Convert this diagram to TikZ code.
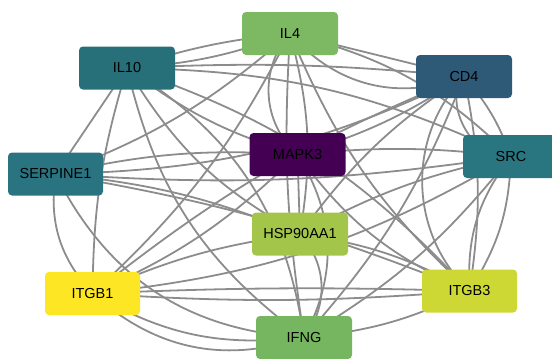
\documentclass[tikz,border=0pt]{standalone}
\usepackage{fontspec}
\setmainfont{Liberation Sans}
\begin{document}
\begin{tikzpicture}[x=1pt,y=-1pt,
  lnk/.style={draw=edgegray, line width=1.8pt},
  gbox/.style={rectangle, rounded corners=4pt, minimum width=96pt, minimum height=43pt, inner sep=0pt, font=\fontsize{14.5}{16}\selectfont, text=black}]
\definecolor{edgegray}{HTML}{8C8C8C}
\definecolor{cIL4}{HTML}{7DB863}
\definecolor{cIL10}{HTML}{287079}
\definecolor{cCD4}{HTML}{2E5A78}
\definecolor{cMAPK}{HTML}{440154}
\definecolor{cSRC}{HTML}{297680}
\definecolor{cSERP}{HTML}{2A7380}
\definecolor{cHSP}{HTML}{A2C54A}
\definecolor{cITGB1}{HTML}{FDE725}
\definecolor{cITGB3}{HTML}{CDD835}
\definecolor{cIFNG}{HTML}{76B660}
\useasboundingbox (0,0) rectangle (552,359);
\clip (0,0) rectangle (552,359);
% node anchors (centres)
\coordinate (pIL4) at (290,33.5);
\coordinate (pIL10) at (127,68);
\coordinate (pCD4) at (464,76.5);
\coordinate (pMAPK) at (297.5,154.5);
\coordinate (pSRC) at (511,156.5);
\coordinate (pSERP) at (55.5,174);
\coordinate (pHSP) at (300,234);
\coordinate (pITGB1) at (92.5,293.5);
\coordinate (pITGB3) at (469.5,291);
\coordinate (pIFNG) at (304,337.5);
% edges
\draw[lnk] (pIL4) to[bend left=8] (pIL10);
\draw[lnk] (pIL4) to[bend right=6] (pIL10);
\draw[lnk] (pIL4) to[bend right=35] (pCD4);
\draw[lnk] (pIL4) to (pCD4);
\draw[lnk] (pIL4) to[bend right=45] (pMAPK);
\draw[lnk] (pIL4) to[bend left=15] (pSRC);
\draw[lnk] (pIL4) to[bend left=10] (pSERP);
\draw[lnk] (pIL4) to[bend left=12] (pHSP);
\draw[lnk] (pIL4) to[bend left=10] (pITGB1);
\draw[lnk] (pIL4) to[bend right=12] (pITGB3);
\draw[lnk] (pIL4) to[bend right=6] (pIFNG);
\draw[lnk] (pIL10) to[bend left=4] (pCD4);
\draw[lnk] (pIL10) to[bend right=10] (pMAPK);
\draw[lnk] (pIL10) to[bend left=12] (pSRC);
\draw[lnk] (pIL10) to (pSERP);
\draw[lnk] (pIL10) to[bend right=15] (pHSP);
\draw[lnk] (pIL10) to[bend right=8] (pITGB1);
\draw[lnk] (pIL10) to[bend left=14] (pITGB3);
\draw[lnk] (pIL10) to[bend right=20] (pIFNG);
\draw[lnk] (pIL10) to[bend left=25] (pIFNG);
\draw[lnk] (pCD4) to[bend left=8] (pMAPK);
\draw[lnk] (pCD4) to[bend right=70] (pSRC);
\draw[lnk] (pCD4) to[bend left=10] (pSRC);
\draw[lnk] (pCD4) to[bend left=12] (pSERP);
\draw[lnk] (pCD4) to[bend right=10] (pHSP);
\draw[lnk] (pCD4) to[bend right=8] (pITGB1);
\draw[lnk] (pCD4) to[bend right=45] (pITGB3);
\draw[lnk] (pCD4) to[bend left=10] (pITGB3);
\draw[lnk] (pCD4) to[bend left=10] (pIFNG);
\draw[lnk] (pMAPK) to[bend left=6] (pSRC);
\draw[lnk] (pMAPK) to[bend right=8] (pSERP);
\draw[lnk] (pMAPK) to (pHSP);
\draw[lnk] (pMAPK) to[bend left=10] (pITGB1);
\draw[lnk] (pMAPK) to[bend right=15] (pITGB3);
\draw[lnk] (pMAPK) to[bend left=30] (pIFNG);
\draw[lnk] (pSRC) to[bend left=6] (pSERP);
\draw[lnk] (pSRC) to[bend right=8] (pHSP);
\draw[lnk] (pSRC) to[bend left=12] (pITGB1);
\draw[lnk] (pSRC) to[bend left=15] (pITGB3);
\draw[lnk] (pSRC) to[bend right=20] (pITGB3);
\draw[lnk] (pSRC) to[bend left=10] (pIFNG);
\draw[lnk] (pSERP) to[bend left=8] (pHSP);
\draw[lnk] (pSERP) to[bend right=25] (pITGB1);
\draw[lnk] (pSERP) to[bend left=6] (pITGB3);
\draw[lnk] (pSERP) to[bend right=30] (pIFNG);
\draw[lnk] (pHSP) to[bend right=8] (pITGB1);
\draw[lnk] (pHSP) to[bend left=10] (pITGB3);
\draw[lnk] (pHSP) to[bend left=40] (pIFNG);
\draw[lnk] (pITGB1) to[bend left=2] (pITGB3);
\draw[lnk] (pITGB1) to[bend right=4] (pITGB3);
\draw[lnk] (pITGB1) to[bend right=18] (pIFNG);
\draw[lnk] (pITGB1) to[bend right=30] (pIFNG);
\draw[lnk] (pITGB3) to[bend left=10] (pIFNG);
% nodes
\node[gbox, fill=cIL4] (IL4) at (pIL4) {IL4};
\node[gbox, fill=cIL10] (IL10) at (pIL10) {IL10};
\node[gbox, fill=cCD4] (CD4) at (pCD4) {CD4};
\node[gbox, fill=cMAPK] (MAPK3) at (pMAPK) {MAPK3};
\node[gbox, fill=cSRC] (SRC) at (pSRC) {SRC};
\node[gbox, fill=cSERP, minimum width=95pt] (SERPINE1) at (pSERP) {SERPINE1};
\node[gbox, fill=cHSP] (HSP90AA1) at (pHSP) {HSP90AA1};
\node[gbox, fill=cITGB1, minimum width=95pt] (ITGB1) at (pITGB1) {ITGB1};
\node[gbox, fill=cITGB3, minimum width=95pt] (ITGB3) at (pITGB3) {ITGB3};
\node[gbox, fill=cIFNG] (IFNG) at (pIFNG) {IFNG};
\end{tikzpicture}
\end{document}
